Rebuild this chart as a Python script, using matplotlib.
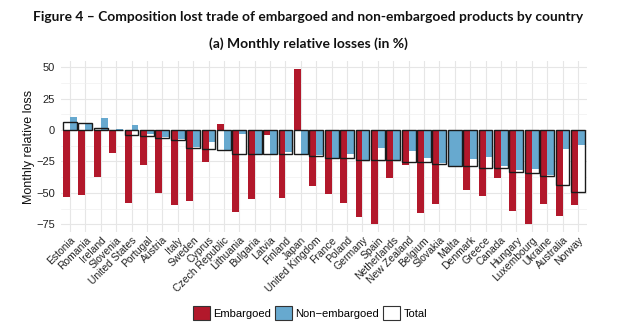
import numpy as np
import matplotlib
matplotlib.use("Agg")
import matplotlib.pyplot as plt
from matplotlib.patches import Patch

countries = ["Estonia", "Romania", "Ireland", "Slovenia", "United States", "Portugal",
             "Austria", "Italy", "Sweden", "Cyprus", "Czech Republic", "Lithuania",
             "Bulgaria", "Latvia", "Finland", "Japan", "United Kingdom", "France",
             "Poland", "Germany", "Spain", "Netherlands", "New Zealand", "Belgium",
             "Slovakia", "Malta", "Denmark", "Greece", "Canada", "Hungary",
             "Luxembourg", "Ukraine", "Australia", "Norway"]

embargoed = [-53.4, -52, -37, -18.4, -58.4, -28, -50, -60, -56.3, -25.7, 4.5, -65,
             -55, -4, -54, 48.7, -44.6, -51, -58, -69.2, -74.6, -38.4, -28, -66,
             -58.7, np.nan, -47.4, -52.6, -38.4, -64, -75, -58.8, -68.3, -60]
non_embargoed = [10, 4.7, 9.2, 0.5, 3.7, -3.5, -5.5, -7.5, -13.6, -9.4, -16.5, -3.5,
                 -19, -19, -17.5, -19, -20, -22.4, -19, -23.7, -14.5, -23.7, -17, -22.3,
                 -26, -28.4, -23, -21.8, -29, -31.6, -31, -36, -14.8, -11.8]
total = [6.6, 5.2, 1.3, 0.4, -3.7, -4.5, -6.5, -8.3, -14, -15.3, -15.8, -19,
         -19.1, -19.2, -19.3, -19.4, -20.4, -22.3, -22.6, -23.7, -24, -24.1, -25.2, -25.4,
         -27, -28.4, -28.6, -30, -30.3, -33, -34, -36.8, -43.6, -49.5]

red = "#B2182B"
blue = "#67A9CF"

plt.rcParams["font.family"] = ["Liberation Sans", "DejaVu Sans"]

fig = plt.figure(figsize=(6.2, 3.35), dpi=100)
ax = fig.add_axes([0.098, 0.307, 0.849, 0.511])

x = np.arange(len(countries))
emb = np.array(embargoed, dtype=float)
non = np.array(non_embargoed, dtype=float)
tot = np.array(total, dtype=float)

# total box behind, coloured halves, outline on top
ax.bar(x, tot, width=0.9, color="white", edgecolor="none", zorder=2)
has_emb = ~np.isnan(emb)
ax.bar(x[has_emb] - 0.225, emb[has_emb], width=0.45, color=red, zorder=3)
ax.bar(x[has_emb] + 0.225, non[has_emb], width=0.45, color=blue, zorder=3)
ax.bar(x[~has_emb], non[~has_emb], width=0.9, color=blue, zorder=3)
ax.bar(x, tot, width=0.9, facecolor="none", edgecolor="#1a1a1a", linewidth=1.0, zorder=4)

ax.set_xlim(-0.6, len(countries) - 0.4)
ax.set_ylim(-81.2, 54.9)
ax.set_yticks([50, 25, 0, -25, -50, -75])
ax.set_yticks([37.5, 12.5, -12.5, -37.5, -62.5], minor=True)
ax.set_xticks(x)
ax.set_xticklabels(countries, rotation=45, ha="right", va="top",
                   rotation_mode="anchor", fontsize=7.5, color="#222222")
ax.tick_params(axis="y", labelsize=8, colors="#222222", length=0, pad=4)
ax.tick_params(axis="x", length=0, pad=2)
ax.tick_params(which="minor", length=0)

ax.grid(True, which="major", color="#E6E6E6", linewidth=0.8, zorder=0)
ax.grid(True, which="minor", axis="y", color="#F0F0F0", linewidth=0.5, zorder=0)
ax.set_axisbelow(True)
for s in ax.spines.values():
    s.set_visible(False)

ax.set_ylabel("Monthly relative loss", fontsize=9, color="#111111", labelpad=1)

fig.text(0.497, 1 - 17 / 335, "Figure 4 \u2013 Composition lost trade of embargoed and non-embargoed products by country",
         ha="center", va="center", fontsize=9.9, fontweight="bold",
         family=["Lato", "DejaVu Sans"], color="#111111")
fig.text(0.497, 1 - 44 / 335, "(a) Monthly relative losses (in %)",
         ha="center", va="center", fontsize=10, fontweight="bold",
         family=["Lato", "DejaVu Sans"], color="#111111")

handles = [Patch(facecolor=red, edgecolor="#333333", linewidth=0.8, label="Embargoed"),
           Patch(facecolor=blue, edgecolor="#333333", linewidth=0.8, label="Non\u2212embargoed"),
           Patch(facecolor="white", edgecolor="#333333", linewidth=0.8, label="Total")]
fig.legend(handles=handles, loc="center", bbox_to_anchor=(0.5, 1 - 313 / 335), ncol=3,
           frameon=False, fontsize=8, handlelength=1.5, handleheight=1.5,
           handletextpad=0.3, columnspacing=0.4)

fig.savefig("out.png", dpi=100)
